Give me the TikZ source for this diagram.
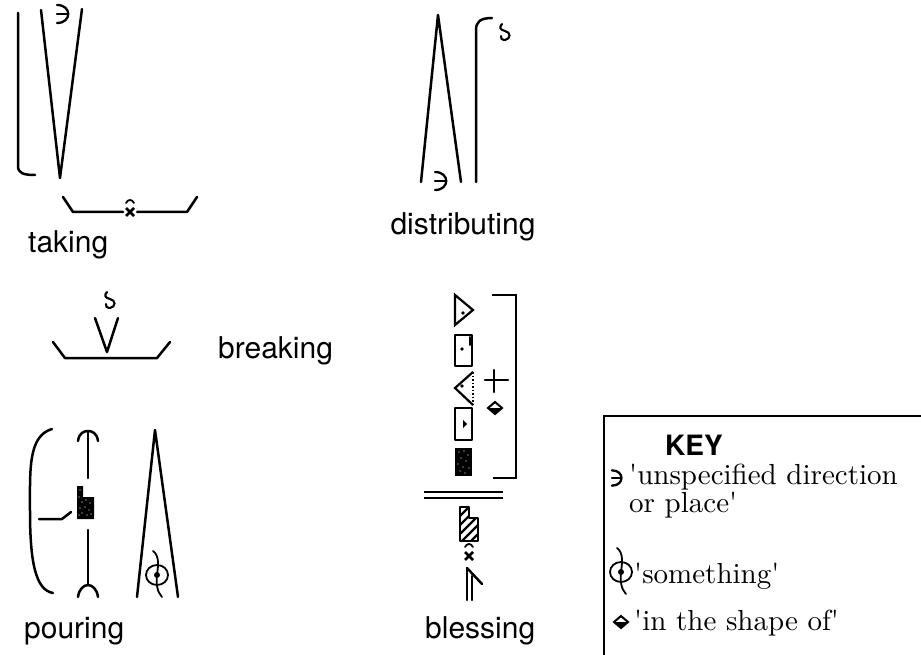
\documentclass[tikz,border=0pt]{standalone}
\usepackage{fontspec}
\newfontfamily\labelfont{TeX Gyre Heros}
\newfontfamily\keyfont{lmroman10-regular.otf}
\usetikzlibrary{calc}

\tikzset{
  stroke/.style={line width=2.5pt, line cap=round, line join=round},
  fine/.style={line width=2pt, line cap=round, line join=round},
  lbl/.style={font=\labelfont\fontsize{30}{32}\selectfont, inner sep=0pt, anchor=base west},
  keytext/.style={font=\keyfont\fontsize{29}{25}\selectfont, inner sep=0pt, anchor=base west},
  % 'unspecified direction or place'
  ni/.pic={
    \draw[line width=2.3pt, line cap=round] (-6,-9) .. controls (9,-9) and (9,9) .. (-6,9);
    \draw[line width=2.3pt, line cap=round] (-6,0) -- (4,0);
  },
  % small twist sign
  twist/.pic={
    \draw[line width=2.1pt, line cap=round]
      (-3,-9) .. controls (-6,-6) and (-5,-3) .. (0,-2)
      .. controls (6,-1) and (6,6) .. (0,7)
      .. controls (-3,7) and (-5,5) .. (-4,3);
  },
  % 'something'
  something/.pic={
    \draw[line width=1.8pt] (0,0) ellipse [x radius=11pt, y radius=10pt];
    \fill (0,0) circle (3pt);
    \draw[line width=1.8pt, line cap=round]
      (-4,-24) .. controls (3,-19) and (1,-8) .. (0,0)
      .. controls (-1,8) and (0,17) .. (5,22);
  },
  % 'in the shape of'
  shapesign/.pic={
    \fill (-7,0) -- (7,0) -- (0,6) -- cycle;
    \draw[line width=2pt, line join=miter] (-7,0) -- (0,-6) -- (7,0) -- (0,6) -- cycle;
  },
  % cross mark with a small arc above
  xhat/.pic={
    \draw[line width=2.6pt] (-4,-4) -- (4,4) (-4,4) -- (4,-4);
    \draw[line width=1.8pt, line cap=round] (-4,-9) .. controls (-2,-13) and (2,-13) .. (4,-9);
  }
}

\begin{document}
\begin{tikzpicture}[x=1pt,y=-1pt]
\useasboundingbox (0,0) rectangle (921,655);

% ---------- taking ----------
\draw[stroke] (18,13) -- (18,166) .. controls (18,173) and (23,175) .. (35,175);
\draw[stroke] (41,10) -- (60,178) -- (82,9);
\pic (tk-ni) at (63,14) {ni};
\draw[stroke] (63,197) -- (73,212) -- (123,212);
\draw[stroke] (137,212) -- (187,212) -- (197,197);
\pic (tk-x) at (130,212) {xhat};
\node[lbl] (taking) at (28,252) {taking};

% ---------- distributing ----------
\draw[stroke] (421,182) -- (438,15) -- (461,182);
\pic (ds-ni) at (441,181) {ni};
\draw[stroke] (476,182) -- (476,30) .. controls (476,22) and (480,18) .. (492,18);
\pic (ds-tw) at (505,33) {twist};
\node[lbl, anchor=base] (distributing) at (463,234) {distributing};

% ---------- breaking ----------
\pic (br-tw) at (110,301) {twist};
\draw[stroke] (95,318) -- (107,352) -- (118,318);
\draw[stroke] (53,342) -- (65,358) -- (157,358) -- (170,342);
\node[lbl] (breaking) at (218,358) {breaking};

% ---------- pouring ----------
\draw[stroke] (52,429) .. controls (28,436) and (30,470) .. (30,511)
  .. controls (30,560) and (35,590) .. (53,593);
\draw[stroke] (78,441) .. controls (79,433) and (84,431) .. (88,431)
  .. controls (92,431) and (97,433) .. (98,441);
\draw[stroke] (88,431) -- (88,478);
\fill (77,486) -- (83,486) -- (83,497) -- (94,497) -- (94,519) -- (77,519) -- cycle;
\foreach \px/\py in {80/490,79/497,82/502,86/500,90/503,80/508,85/507,89/510,82/513,87/515,91/514,79/515}
  \fill[white] (\px,\py) circle (0.6pt);
\draw[stroke] (88,530) -- (88,585);
\draw[stroke] (78,597) .. controls (79,589) and (84,585) .. (88,585)
  .. controls (92,585) and (97,589) .. (98,597);
\draw[stroke] (39,519) -- (62,519) -- (71,512);
\draw[stroke] (137,597) -- (155,430) -- (178,597);
\pic (pr-sth) at (157,575) {something};
\node[lbl] (pouring) at (24,638) {pouring};

% ---------- blessing ----------
\draw[line width=2.2pt, line join=miter] (455,295) -- (455,325) -- (473,310) -- cycle;
\fill (463,313) circle (1.8pt);
\draw[fine] (455,335) rectangle (472,366);
\fill (462,349) circle (1.8pt);
\draw[fine] (470,337) -- (470,345);
\draw[line width=2.2pt, line join=miter] (473,372) -- (455,388) -- (473,405);
\draw[line width=1.5pt, dotted] (473,372) -- (473,405);
\fill (462,386) circle (1.8pt);
\draw[fine] (455,408) rectangle (472,440);
\fill (463,420) -- (467,424) -- (463,428) -- cycle;
\fill (455,448) rectangle (472,476);
\foreach \px/\py in {459/452,464/451,468/455,461/458,466/461,458/464,463/467,469/468,460/471,465/473}
  \fill[white] (\px,\py) circle (0.6pt);
\draw[stroke] (485,380) -- (508,380);
\draw[stroke] (494,370) -- (494,392);
\pic (bl-shape) at (495,408) {shapesign};
\draw[line width=2.4pt] (492,295) -- (516,295) -- (516,478) -- (493,478);
\draw[line width=2pt] (424,492) -- (503,492);
\draw[line width=2pt] (424,498) -- (503,498);
\begin{scope}
  \clip (460,507) -- (469,507) -- (469,518) -- (478,518) -- (478,541) -- (460,541) -- cycle;
  \foreach \k in {0,...,5}
    \draw[line width=2.4pt] (455,{512+\k*9}) -- (483,{484+\k*9});
\end{scope}
\draw[fine] (460,507) -- (469,507) -- (469,518) -- (478,518) -- (478,541) -- (460,541) -- cycle;
\pic (bl-x) at (469,556) {xhat};
\draw[stroke] (467,568) -- (467,600);
\draw[stroke] (472,576) -- (472,600);
\draw[stroke] (467,568) -- (482,584);
\node[lbl] (blessing) at (425,638) {blessing};

% ---------- key ----------
\draw[line width=2.6pt] (604,416) -- (925,416);
\draw[line width=1.8pt] (604,415) -- (604,660);
\node[font=\labelfont\bfseries\fontsize{28}{30}\selectfont, inner sep=0pt, anchor=base west] (key) at (665,455) {KEY};
\pic[scale=0.85] (key-ni) at (617,478) {ni};
\node[keytext] (k1) at (629,484) {\textquotesingle unspecified direction};
\node[keytext] (k2) at (629,512) {or place\textquotesingle};
\pic (key-sth) at (621,572) {something};
\node[keytext] (k3) at (634,583) {\textquotesingle something\textquotesingle};
\pic (key-shape) at (621,622) {shapesign};
\node[keytext] (k4) at (634,630) {\textquotesingle in the shape of\textquotesingle};
\end{tikzpicture}
\end{document}
